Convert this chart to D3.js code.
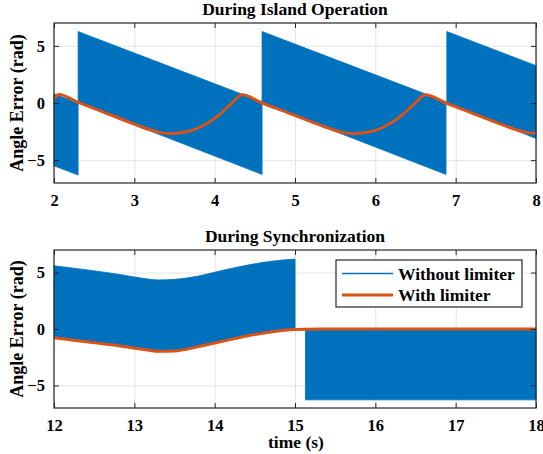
<!DOCTYPE html>
<html>
<head>
<meta charset="utf-8">
<script src="https://cdn.jsdelivr.net/npm/d3@7"></script>
<style>
  html, body { margin: 0; padding: 0; background: #fff; }
  svg { display: block; }
  text { font-family: "Liberation Serif", "Times New Roman", serif; font-weight: bold; fill: #000; }
</style>
</head>
<body>
<svg id="chart" width="543" height="454"></svg>
<script>
// ---------------- DATA ----------------
const islandTitle = "During Island Operation";
const syncTitle = "During Synchronization";
const yLabel = "Angle Error (rad)";
const xLabel = "time (s)";
const legendLabels = ["Without limiter", "With limiter"];

const islandXTicks = [2, 3, 4, 5, 6, 7, 8];
const syncXTicks = [12, 13, 14, 15, 16, 17, 18];
const yTicks = [-5, 0, 5];

// Without limiter (fast oscillation drawn as its envelope): [segment, t, upper, lower]
const islandBand = [
  [0, 2.00, 0.80, -5.50], [0, 2.30, 0.00, -6.30],
  [1, 2.30, 6.25, 0.00], [1, 4.59, 0.10, -6.25],
  [2, 4.59, 6.25, 0.00], [2, 6.88, 0.10, -6.25],
  [3, 6.89, 6.25, 0.00], [3, 8.00, 3.27, -3.10]
];

// With limiter: [t, value]
const islandLimiter = [
  [2.00, 0.35], [2.06, 0.75], [2.30, 0.05], [2.60, -0.75], [3.00, -1.85],
  [3.20, -2.35], [3.30, -2.55], [3.44, -2.66], [3.60, -2.58], [3.72, -2.40],
  [3.82, -2.10], [3.95, -1.60], [4.07, -0.95], [4.17, -0.30], [4.23, 0.10],
  [4.34, 0.72], [4.59, 0.00], [4.90, -0.82], [5.28, -1.85], [5.48, -2.35],
  [5.58, -2.55], [5.72, -2.66], [5.88, -2.58], [6.00, -2.40], [6.10, -2.10],
  [6.23, -1.60], [6.35, -0.95], [6.45, -0.30], [6.51, 0.10], [6.62, 0.72],
  [6.88, 0.00], [7.18, -0.82], [7.56, -1.85], [7.76, -2.35], [7.86, -2.55],
  [8.00, -2.66]
];

const syncBand = [
  [0, 12.00, 5.60, -0.77], [0, 12.40, 5.25, -1.12], [0, 12.80, 4.85, -1.48],
  [0, 13.10, 4.50, -1.80], [0, 13.30, 4.35, -1.97], [0, 13.50, 4.40, -1.95],
  [0, 13.80, 4.70, -1.55], [0, 14.10, 5.20, -1.08], [0, 14.40, 5.65, -0.62],
  [0, 14.70, 6.00, -0.27], [0, 15.00, 6.20, -0.05],
  [1, 15.13, -0.05, -6.28], [1, 18.00, -0.05, -6.28]
];

const syncLimiter = [
  [12.00, -0.77], [12.40, -1.12], [12.80, -1.48], [13.10, -1.80], [13.30, -1.97],
  [13.50, -1.95], [13.80, -1.55], [14.10, -1.08], [14.40, -0.62], [14.70, -0.27],
  [15.00, -0.05], [15.30, 0.00], [18.00, 0.00]
];

// ---------------- LAYOUT ----------------
const svg = d3.select("#chart");
const blue = "#0072BD", orange = "#D95319", axisCol = "#262626", gridCol = "#e3e3e3";
const left = 54, right = 536;
const panels = [
  { top: 23, bottom: 183, xDomain: [2, 8], xTicks: islandXTicks, band: islandBand, lim: islandLimiter, title: islandTitle, legend: false },
  { top: 250, bottom: 408, xDomain: [12, 18], xTicks: syncXTicks, band: syncBand, lim: syncLimiter, title: syncTitle, legend: true }
];

panels.forEach((p, i) => {
  const x = d3.scaleLinear().domain(p.xDomain).range([left, right]);
  const y = d3.scaleLinear().domain([-7, 7]).range([p.bottom, p.top]);
  const g = svg.append("g");
  const h = p.bottom - p.top, w = right - left;

  // grid
  g.append("g").attr("transform", `translate(0,${p.bottom})`)
    .call(d3.axisBottom(x).tickValues(p.xTicks).tickSize(-h).tickFormat(""))
    .call(s => { s.select(".domain").remove(); s.selectAll("line").attr("stroke", gridCol).attr("stroke-width", 1); });
  g.append("g").attr("transform", `translate(${left},0)`)
    .call(d3.axisLeft(y).tickValues(yTicks).tickSize(-w).tickFormat(""))
    .call(s => { s.select(".domain").remove(); s.selectAll("line").attr("stroke", gridCol).attr("stroke-width", 1); });

  // band (without limiter)
  const segs = d3.groups(p.band, d => d[0]);
  const area = d3.area().x(d => x(d[1])).y0(d => y(d[3])).y1(d => y(d[2])).curve(d3.curveMonotoneX);
  segs.forEach(([k, pts]) => {
    g.append("path").attr("d", area(pts)).attr("fill", blue).attr("stroke", blue).attr("stroke-width", 0.8);
  });

  // limiter line
  const line = d3.line().x(d => x(d[0])).y(d => y(d[1])).curve(d3.curveMonotoneX);
  g.append("path").attr("d", line(p.lim)).attr("fill", "none").attr("stroke", orange)
    .attr("stroke-width", 3).attr("stroke-linejoin", "round");

  // axes
  const styleAxis = s => {
    s.attr("font-family", null).attr("font-size", null);
    s.select(".domain").remove();
    s.selectAll("line").attr("stroke", axisCol).attr("stroke-width", 1);
    s.selectAll("text").style("font-family", "'Liberation Serif', serif").style("font-weight", "bold")
      .style("font-size", "16.5px").attr("fill", "#000");
  };
  g.append("g").attr("transform", `translate(0,${p.bottom})`)
    .call(d3.axisBottom(x).tickValues(p.xTicks).tickSize(-5).tickPadding(11.5).tickFormat(d3.format("d")))
    .call(styleAxis);
  g.append("g").attr("transform", `translate(0,${p.top})`)
    .call(d3.axisTop(x).tickValues(p.xTicks).tickSize(-5).tickFormat(""))
    .call(styleAxis);
  g.append("g").attr("transform", `translate(${left},0)`)
    .call(d3.axisLeft(y).tickValues(yTicks).tickSize(-5).tickPadding(9).tickFormat(d3.format("d")))
    .call(styleAxis);
  g.append("g").attr("transform", `translate(${right},0)`)
    .call(d3.axisRight(y).tickValues(yTicks).tickSize(-5).tickFormat(""))
    .call(styleAxis);
  g.append("rect").attr("x", left).attr("y", p.top).attr("width", w).attr("height", h)
    .attr("fill", "none").attr("stroke", axisCol).attr("stroke-width", 1.2);

  // title
  g.append("text").attr("x", (left + right) / 2).attr("y", p.top - 8).attr("text-anchor", "middle")
    .style("font-size", "17.5px").text(p.title);
  // y label
  g.append("text").attr("transform", `translate(23,${(p.top + p.bottom) / 2}) rotate(-90)`)
    .attr("text-anchor", "middle").style("font-size", "18px").text(yLabel);

  if (p.legend) {
    const lx = 336, ly = 260, lw = 186, lh = 47;
    const lg = g.append("g");
    lg.append("rect").attr("x", lx).attr("y", ly).attr("width", lw).attr("height", lh)
      .attr("fill", "#fff").attr("stroke", axisCol).attr("stroke-width", 1.2);
    const items = [{ c: blue, wdt: 1.6, yy: 273.5 }, { c: orange, wdt: 3, yy: 295 }];
    items.forEach((it, j) => {
      lg.append("line").attr("x1", 342).attr("x2", 393).attr("y1", it.yy).attr("y2", it.yy)
        .style("stroke", it.c).style("stroke-width", it.wdt);
      lg.append("text").attr("x", 398).attr("y", it.yy + 6).style("font-size", "17.5px").text(legendLabels[j]);
    });
    g.append("text").attr("x", 296).attr("y", 447.5).attr("text-anchor", "middle")
      .style("font-size", "17.5px").text(xLabel);
  }
});
</script>
</body>
</html>
